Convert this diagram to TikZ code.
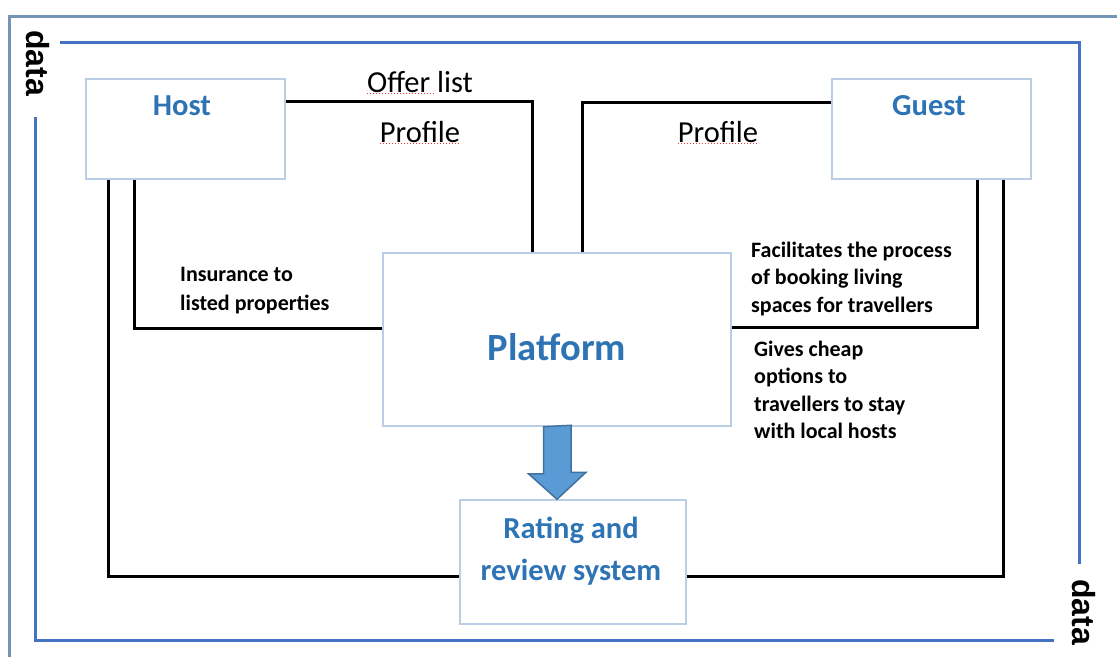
\documentclass[tikz,border=0pt]{standalone}
\usepackage{fontspec}
\setmainfont{Carlito}
\setsansfont{Liberation Sans}
\usetikzlibrary{calc}
\definecolor{outerc}{HTML}{7394B5}
\definecolor{innerc}{HTML}{4472C4}
\definecolor{boxc}{HTML}{B9CDE5}
\definecolor{titlec}{HTML}{2E74B5}
\definecolor{arrowfill}{HTML}{5B9BD5}
\definecolor{arrowline}{HTML}{41719C}
\tikzset{
  box/.style={draw=boxc, line width=1.5pt, fill=white, rectangle, inner sep=0pt},
  title/.style={text=titlec, font=\bfseries\fontsize{30.5}{42}\selectfont, inner sep=0pt, align=center},
  bigtitle/.style={text=titlec, font=\bfseries\fontsize{38.5}{46}\selectfont, inner sep=0pt},
  conn/.style={draw=black, line width=3pt},
  plain/.style={font=\fontsize{30.5}{34}\selectfont, inner sep=0pt},
  note/.style={font=\bfseries\fontsize{22}{27.5}\selectfont, inner sep=0pt, align=left, anchor=west},
  datalbl/.style={font=\sffamily\bfseries\fontsize{32}{36}\selectfont, rotate=-90, inner sep=0pt},
  frameline/.style={line width=3pt},
  bigarrow/.style={fill=arrowfill, draw=arrowline, line width=1.5pt, line join=miter},
  spell/.style={draw=red!80, line width=1pt, dash pattern=on 1pt off 2pt}
}
\begin{document}
\begin{tikzpicture}[x=1pt,y=-1pt]
\useasboundingbox (0,0) rectangle (1117,657);
\fill[white] (0,0) rectangle (1117,657);

% outer frame
\draw[frameline, draw=outerc] (9,657) -- (9,16) -- (1117,16);

% inner data frame
\draw[frameline, draw=innerc] (60,42.5) -- (1079,42.5) -- (1079,564);
\draw[frameline, draw=innerc] (1054,640) -- (35,640) -- (35,117);
\node[datalbl] (dataL) at (38,63) {data};
\node[datalbl] (dataR) at (1084,612) {data};

\coordinate (hostC) at (185.5,129);
\coordinate (guestC) at (931.5,129);
\coordinate (platC) at (557,339.5);
\coordinate (rateC) at (573,562);

\node[box, minimum width=199pt, minimum height=100pt] (host) at (hostC) {};
\node[box, minimum width=199pt, minimum height=100pt] (guest) at (guestC) {};
\node[box, minimum width=348pt, minimum height=173pt] (platform) at (platC) {};
\node[box, minimum width=226pt, minimum height=124pt] (rating) at (rateC) {};

\draw[conn] ([yshift=-23pt]host.north east) -| ([xshift=150pt]platform.north west);
\draw[conn] ([yshift=-24pt]guest.north west) -| ([xshift=-149pt]platform.north east);
\draw[conn] ([xshift=49pt]host.south west) |- ([yshift=11.5pt]platform.west);
\draw[conn] ([xshift=146pt]guest.south west) |- ([yshift=12.5pt]platform.east);
\draw[conn] ([xshift=23pt]host.south west) |- ([yshift=-14pt]rating.west);
\draw[conn] ([xshift=172pt]guest.south west) |- ([yshift=-14pt]rating.east);

% titles
\node[title] (hostT) at (182,106) {Host};
\node[title] (guestT) at (929,106) {Guest};
\node[bigtitle] (platT) at (557,347) {Platform};
\node[title] (rateT) at (571,551) {Rating and\\review system};

% big arrow
\draw[bigarrow] (platform.south) ++(-13.5,0) -- ++(0,47) -- ++(-15,0)
  -- (platform.south |- rating.north) -- ++(29,-27) -- ++(-15,0) -- ++(0,-47) -- cycle;

% plain labels
\node[plain] (offer) at (420,82) {Offer list};
\node[plain] (profL) at (420,132) {Profile};
\node[plain] (profR) at (718,132) {Profile};
\draw[spell] (367,93) -- (434,93);
\draw[spell] (380,143) -- (461,143);
\draw[spell] (678,143) -- (759,143);

% notes
\node[note, font=\bfseries\fontsize{22}{29}\selectfont] (ins) at (180,291) {Insurance to\\listed properties};
\node[note] (fac) at (751,279) {Facilitates the process\\of booking living\\spaces for travellers};
\node[note] (cheap) at (754,390) {Gives cheap\\options to\\travellers to stay\\with local hosts};
\end{tikzpicture}
\end{document}
